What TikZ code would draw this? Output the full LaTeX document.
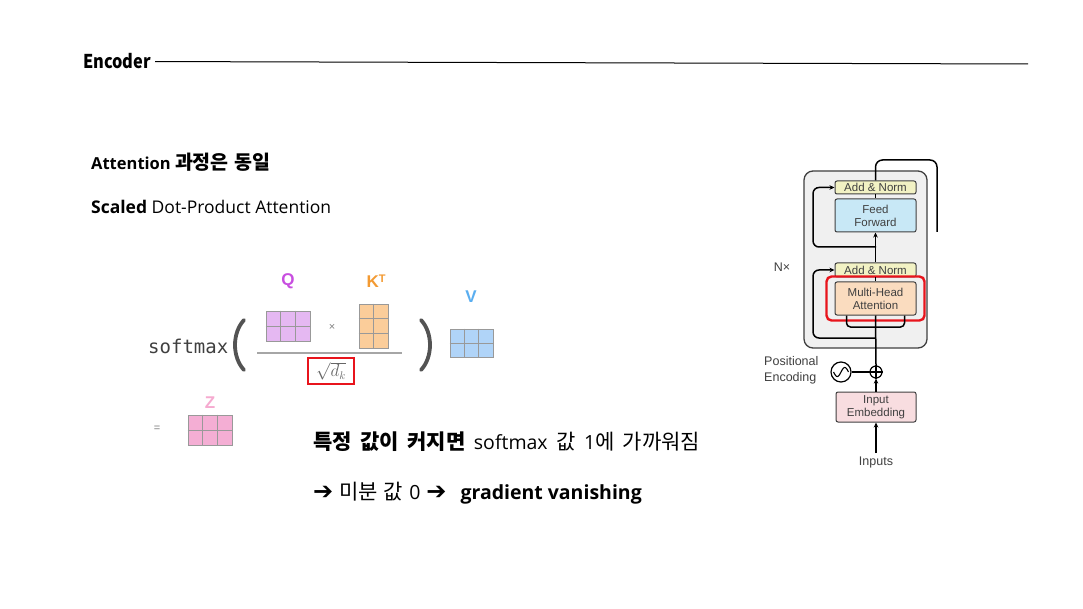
\documentclass[tikz,border=0pt]{standalone}
\usepackage{fontspec}
\usepackage{graphicx}
\setmainfont{Open Sans}
\newfontfamily\kr{Noto Sans CJK KR}
\newfontfamily\monof{DejaVu Sans Mono}
\newfontfamily\helv{Liberation Sans}
\newfontfamily\dejavu{DejaVu Sans}
\usetikzlibrary{arrows.meta,calc,fit}
\definecolor{qcol}{HTML}{C84EE0}
\definecolor{kcol}{HTML}{F39A32}
\definecolor{vcol}{HTML}{5AAEF0}
\definecolor{zcol}{HTML}{F6AAD0}
\definecolor{qfill}{HTML}{E5B8F2}
\definecolor{kfill}{HTML}{FBCD9A}
\definecolor{vfill}{HTML}{B0D4F8}
\definecolor{zfill}{HTML}{F4AED4}
\definecolor{dgray}{HTML}{404040}
\definecolor{anfill}{HTML}{F2F2C4}
\definecolor{fffill}{HTML}{C8E8F6}
\definecolor{mhafill}{HTML}{FADCBF}
\definecolor{embfill}{HTML}{F8DDE0}
\definecolor{outerfill}{HTML}{F0F0F0}
\definecolor{redc}{HTML}{E8141C}
\newcommand\krbig{\kr\fontsize{21}{21}\selectfont}
\newcommand\krmid{\kr\fontsize{19.5}{19.5}\selectfont}
\newcommand\arrowsym{{\dejavu\bfseries\fontsize{24}{24}\selectfont ➔}}
\newcommand\setsp[1]{\spaceskip=#1\relax}
\begin{document}
\begin{tikzpicture}[x=1pt,y=-1pt,
  txt/.style={anchor=base west, inner sep=0pt, text=black},
  matbox/.style={draw=gray!80, line width=0.8pt, inner sep=0pt},
  gridl/.style={draw=gray!80, line width=0.8pt},
  mlabel/.style={inner sep=0pt, font=\helv\bfseries\fontsize{17}{17}\selectfont},
  encbox/.style={draw=dgray, line width=1pt, rounded corners=2pt, minimum width=81pt, inner sep=0pt, align=center, text=dgray, font=\helv\fontsize{11.5}{13}\selectfont},
  flow/.style={line width=1.5pt, black},
  arr/.style={flow, -{Stealth[length=5pt,width=4.5pt]}},
  smalltxt/.style={inner sep=0pt, text=dgray, font=\helv\fontsize{12.5}{16.5}\selectfont}
]
\useasboundingbox[fill=white] (0,0) rectangle (1083,609);

% header
\node[txt, font=\kr\bfseries\fontsize{19}{19}\selectfont] (enc) at (83,69) {\scalebox{0.86}[1]{Encoder}};
\coordinate (lineend) at (1028,64);
\draw[line width=1pt] ($(enc.east)+(4,0)$ |- lineend) -- (lineend);

% texts
\node[txt, font=\bfseries\fontsize{16.5}{16.5}\selectfont] (t1) at (91,170) {Attention {\krmid\setsp{6pt}과정은 동일}};
\node[txt, font=\fontsize{17.5}{17.5}\selectfont] (t2) at (91,214) {\textbf{Scaled} Dot-Product Attention};

% softmax formula
\node[txt, font=\monof\fontsize{19}{19}\selectfont, text=dgray] (sm) at (148,353) {softmax};
\draw[line width=3.8pt, draw=dgray!90, line cap=round] (244,320) .. controls (232,333) and (232,357) .. (244,370);
\draw[line width=3.8pt, draw=dgray!90, line cap=round] (421,320) .. controls (433,333) and (433,357) .. (421,370);

% Q
\node[matbox, fill=qfill, minimum width=44pt, minimum height=30pt] (qm) at (288,326) {};
\foreach \f in {1/3,2/3} \draw[gridl] ($(qm.north west)!\f!(qm.north east)$) -- ($(qm.south west)!\f!(qm.south east)$);
\draw[gridl] (qm.west) -- (qm.east);
\node[mlabel, text=qcol] (ql) at (288,281) {Q};
% x
\node[inner sep=0pt, text=gray, font=\helv\fontsize{11}{11}\selectfont] (times) at (332,327) {×};
% K
\node[matbox, fill=kfill, minimum width=29pt, minimum height=44pt] (km) at (373.5,326) {};
\draw[gridl] (km.north) -- (km.south);
\foreach \f in {1/3,2/3} \draw[gridl] ($(km.north west)!\f!(km.south west)$) -- ($(km.north east)!\f!(km.south east)$);
\node[mlabel, text=kcol] (kl) at (376,281) {K\raisebox{0.55ex}{\fontsize{11}{11}\selectfont T}};
% fraction
\coordinate (fracL) at (257,353);
\coordinate (fracR) at (402,353);
\draw[line width=1.3pt, draw=gray!70] (fracL) -- (fracR);
\node[draw=redc, line width=2.4pt, minimum width=46pt, minimum height=26pt, inner sep=0pt, text=dgray!80, font=\fontsize{16}{16}\selectfont] (dk) at (331,371) {$\sqrt{d_k}$};
% V
\node[matbox, fill=vfill, minimum width=43pt, minimum height=28pt] (vm) at (471.5,343) {};
\foreach \f in {1/3,2/3} \draw[gridl] ($(vm.north west)!\f!(vm.north east)$) -- ($(vm.south west)!\f!(vm.south east)$);
\draw[gridl] (vm.west) -- (vm.east);
\node[mlabel, text=vcol] (vl) at (471,297) {V};
% Z
\node[inner sep=0pt, text=gray, font=\helv\fontsize{11}{11}\selectfont] (eq) at (157,429) {=};
\node[matbox, fill=zfill, minimum width=44pt, minimum height=30pt] (zm) at (210,430) {};
\foreach \f in {1/3,2/3} \draw[gridl] ($(zm.north west)!\f!(zm.north east)$) -- ($(zm.south west)!\f!(zm.south east)$);
\draw[gridl] (zm.west) -- (zm.east);
\node[mlabel, text=zcol] (zl) at (210,403) {Z};

% bottom texts
\node[txt, font={\fontsize{19.5}{19.5}\selectfont\setsp{8.5pt}}] (b1) at (313,449) {{\krbig\bfseries 특정 값이 커지면 }softmax{\krbig{} 값 }1{\krbig 에 가까워짐}};
\node[txt, font={\fontsize{19.5}{19.5}\selectfont\setsp{6pt}}] (b2) at (313,499) {\arrowsym{\krbig{} 미분 값 }0 \arrowsym{} \hspace{8pt}{\bfseries\setsp{5pt}gradient vanishing}};

% encoder diagram
\node[draw=dgray, line width=1.3pt, fill=outerfill, rounded corners=9pt, minimum width=123pt, minimum height=177pt, inner sep=0pt] (outer) at (865.5,259.5) {};
\node[encbox, fill=anfill, minimum height=13pt] (an2) at (875.5,187.5) {Add \& Norm};
\node[encbox, fill=fffill, minimum height=33pt] (ff) at (875.5,215.5) {Feed\\Forward};
\node[encbox, fill=anfill, minimum height=14pt] (an1) at (875.5,270) {Add \& Norm};
\node[encbox, fill=mhafill, minimum height=33pt] (mha) at (875.5,298.5) {Multi-Head\\Attention};
\node[fit=(mha), draw=redc, line width=2.4pt, rounded corners=5pt, inner xsep=8pt, inner ysep=5pt] (red) {};
\node[encbox, fill=embfill, minimum height=30pt, minimum width=80pt] (emb) at (876,407) {Input\\Embedding};
\node[smalltxt] (nx) at (782,267) {N×};
\node[smalltxt, anchor=north west, align=left] (pe) at (764,356) {Positional\\Encoding};
\node[smalltxt] (inp) at (876,462) {Inputs};
\node[circle, draw=black, line width=1.2pt, minimum size=12pt, inner sep=0pt] (plus) at (876,372) {};
\draw[line width=1.1pt] (plus.north) -- (plus.south) (plus.west) -- (plus.east);
\node[circle, draw=black, line width=1.2pt, minimum size=20pt, inner sep=0pt] (sine) at (841,372) {};
\draw[line width=1.1pt, domain=-1:1, samples=40] plot ({841+7.5*\x}, {372-4.5*sin(\x*180)});

% connectors
\coordinate (inpt) at (876,453);
\draw[arr] (inpt) -- (emb.south);
\draw[arr] (emb.north) -- (plus.south);
\draw[flow] (sine.east) -- (plus.west);
\coordinate (fork) at (876,327);
\coordinate (res1) at (876,338);
\draw[flow] (plus.north) -- (mha.south);
\draw[flow, rounded corners=4pt] ($(mha.south)+(-29,0)$) |- (fork) -| ($(mha.south)+(29,0)$);
\draw[arr, rounded corners=6pt] (res1) -| (813,270) -- (an1.west);
\draw[flow] (mha.north) -- (an1.south);
\draw[arr] (an1.north) -- (ff.south);
\coordinate (res2) at (876,247);
\draw[arr, rounded corners=6pt] (res2) -| (813,187.5) -- (an2.west);
\draw[flow] (ff.north) -- (an2.south);
\coordinate (outend) at (937,232);
\draw[flow, rounded corners=7pt] (an2.north) |- (937,160) -- (outend);
\end{tikzpicture}
\end{document}
